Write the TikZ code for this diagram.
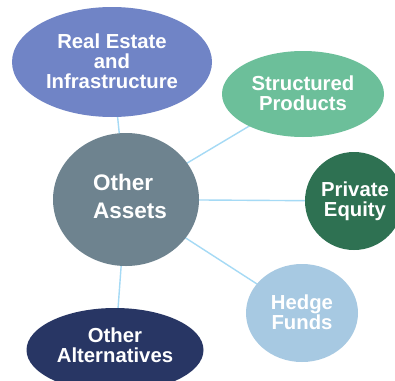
\documentclass[tikz,border=0pt]{standalone}
\usepackage{fontspec}
\setmainfont{Liberation Sans}
\usetikzlibrary{shapes.geometric,backgrounds}
\definecolor{cRE}{HTML}{7084C6}
\definecolor{cSP}{HTML}{6CBF9A}
\definecolor{cOA}{HTML}{6E838F}
\definecolor{cPE}{HTML}{2E7152}
\definecolor{cHF}{HTML}{A7C9E2}
\definecolor{cAL}{HTML}{283664}
\definecolor{cLine}{HTML}{A5DAF5}
\begin{document}
\begin{tikzpicture}[x=1pt,y=-1pt,
  blob/.style={ellipse,inner sep=0pt,draw=none},
  lbl/.style={text=white,font=\bfseries\fontsize{20.3}{20}\selectfont,align=center,inner sep=0pt},
  biglbl/.style={text=white,font=\bfseries\fontsize{22.5}{28}\selectfont,align=left,inner sep=0pt},
  link/.style={draw=cLine,line width=1.4pt}]
\useasboundingbox (0,0) rectangle (395,380);
\clip (0,0) rectangle (395,380);
% shapes
\node[blob,fill=cRE,minimum width=200pt,minimum height=110pt] (re) at (112,62) {};
\node[blob,fill=cSP,minimum width=162pt,minimum height=86pt] (sp) at (303,94) {};
\node[blob,fill=cOA,minimum width=146pt,minimum height=133pt] (oa) at (126,199.5) {};
\node[blob,fill=cPE,minimum width=98pt,minimum height=98pt] (pe) at (354,201) {};
\node[blob,fill=cHF,minimum width=112pt,minimum height=98pt] (hf) at (302,313) {};
\node[blob,fill=cAL,minimum width=177pt,minimum height=84pt] (al) at (115,350) {};
% labels
\node[lbl] (tre) at (112,61.5) {Real Estate\\and\\Infrastructure};
\node[lbl] (tsp) at (303,93) {Structured\\Products};
\node[biglbl] (toa) at (130,196) {Other\\Assets};
\node[lbl] (tpe) at (355,201.5) {Private\\Equity};
\node[lbl] (thf) at (302,312.5) {Hedge\\Funds};
\node[lbl] (tal) at (115,345) {Other\\Alternatives};
% connectors
\begin{scope}[on background layer]
\fill[white] (0,0) rectangle (395,380);
\draw[link] (oa.center) -- (re.center);
\draw[link] (oa.center) -- (sp.center);
\draw[link] (oa.center) -- (pe.center);
\draw[link] (oa.center) -- (hf.center);
\draw[link] (oa.center) -- (al.center);
\end{scope}
\end{tikzpicture}
\end{document}
